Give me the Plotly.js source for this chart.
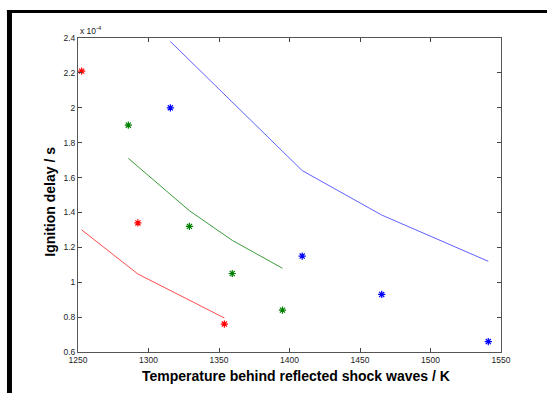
<!DOCTYPE html>
<html>
<head>
<meta charset="utf-8">
<script src="https://cdn.plot.ly/plotly-3.0.1.min.js"></script>
<style>html,body{margin:0;padding:0;background:#fff;}#chart{width:547px;height:393px;}</style>
</head>
<body>
<div id="chart"></div>
<script>
// Temperatures (K) and ignition delays (units of 1e-4 s)
const redTemps = [1252.6, 1292.5, 1353.8];
const redMeasured = [2.21, 1.34, 0.76];
const redModel = [1.30, 1.047, 0.795];

const greenTemps = [1285.7, 1329, 1359.4, 1395];
const greenMeasured = [1.90, 1.32, 1.05, 0.84];
const greenModel = [1.71, 1.41, 1.24, 1.08];

const blueTemps = [1315.5, 1409, 1465.4, 1541];
const blueMeasured = [2.00, 1.15, 0.93, 0.66];
const blueModel = [2.38, 1.64, 1.385, 1.12];

const xTicks = [1250, 1300, 1350, 1400, 1450, 1500, 1550];
const yTicks = [0.6, 0.8, 1, 1.2, 1.4, 1.6, 1.8, 2, 2.2, 2.4];
const yTickLabels = ['0.6', '0.8', '1', '1.2', '1.4', '1.6', '1.8', '2', '2.2', '2.4'];

const xTitle = 'Temperature behind reflected shock waves / K';
const yTitle = 'Ignition delay / s';
const exponentLabel = 'x 10<sup>-4</sup>';

function lineTrace(x, y, color) {
  return {x: x, y: y, type: 'scatter', mode: 'lines', line: {color: color, width: 1}, hoverinfo: 'skip'};
}
function markTrace(x, y, color) {
  return {x: x, y: y, type: 'scatter', mode: 'markers',
    marker: {symbol: 'asterisk-open', size: 6, color: color, line: {color: color, width: 1.2}}};
}

const traces = [
  lineTrace(blueTemps, blueModel, '#6060ff'),
  lineTrace(greenTemps, greenModel, '#3c9c3c'),
  lineTrace(redTemps, redModel, '#ff4c4c'),
  markTrace(blueTemps, blueMeasured, '#0000ff'),
  markTrace(greenTemps, greenMeasured, '#008000'),
  markTrace(redTemps, redMeasured, '#ff0000')
];

const fam = 'Arial, "Liberation Sans", sans-serif';
const axisFont = {family: fam, size: 8.5, color: '#222'};
const titleFont = {family: fam, size: 14, color: '#000', weight: 'bold'};

const layout = {
  width: 547, height: 393,
  margin: {l: 78, r: 46, t: 38, b: 41},
  paper_bgcolor: '#fff', plot_bgcolor: '#fff',
  showlegend: false,
  xaxis: {
    range: [1250, 1550], tickvals: xTicks, ticktext: xTicks.map(String),
    ticks: 'inside', ticklen: 4, tickcolor: '#444', tickwidth: 1,
    showline: true, linecolor: '#555', linewidth: 1, mirror: 'ticks',
    showgrid: false, zeroline: false, tickfont: axisFont
  },
  yaxis: {
    range: [0.6, 2.4], tickvals: yTicks, ticktext: yTickLabels,
    ticks: 'inside', ticklen: 4, tickcolor: '#444', tickwidth: 1,
    showline: true, linecolor: '#555', linewidth: 1, mirror: 'ticks',
    showgrid: false, zeroline: false, tickfont: axisFont
  },
  annotations: [
    {xref: 'paper', yref: 'paper', x: 0, y: 1, xanchor: 'left', yanchor: 'bottom',
     text: exponentLabel, showarrow: false, font: {family: fam, size: 8.5, color: '#222'}},
    {xref: 'paper', yref: 'paper', x: 0.515, y: -0.076, xanchor: 'center', yanchor: 'middle',
     text: xTitle, showarrow: false, font: titleFont},
    {xref: 'paper', yref: 'paper', x: -0.066, y: 0.479, xanchor: 'center', yanchor: 'middle',
     text: yTitle, textangle: -90, showarrow: false, font: titleFont}
  ],
  shapes: [
    {type: 'line', xref: 'paper', yref: 'paper', x0: -0.168, x1: 1.12, y0: 1.0844, y1: 1.0844, line: {color: '#000', width: 3}},
    {type: 'line', xref: 'paper', yref: 'paper', x0: -0.162, x1: -0.162, y0: 1.089, y1: -0.2, line: {color: '#000', width: 5}}
  ]
};

Plotly.newPlot('chart', traces, layout, {displayModeBar: false, staticPlot: true});
</script>
</body>
</html>
